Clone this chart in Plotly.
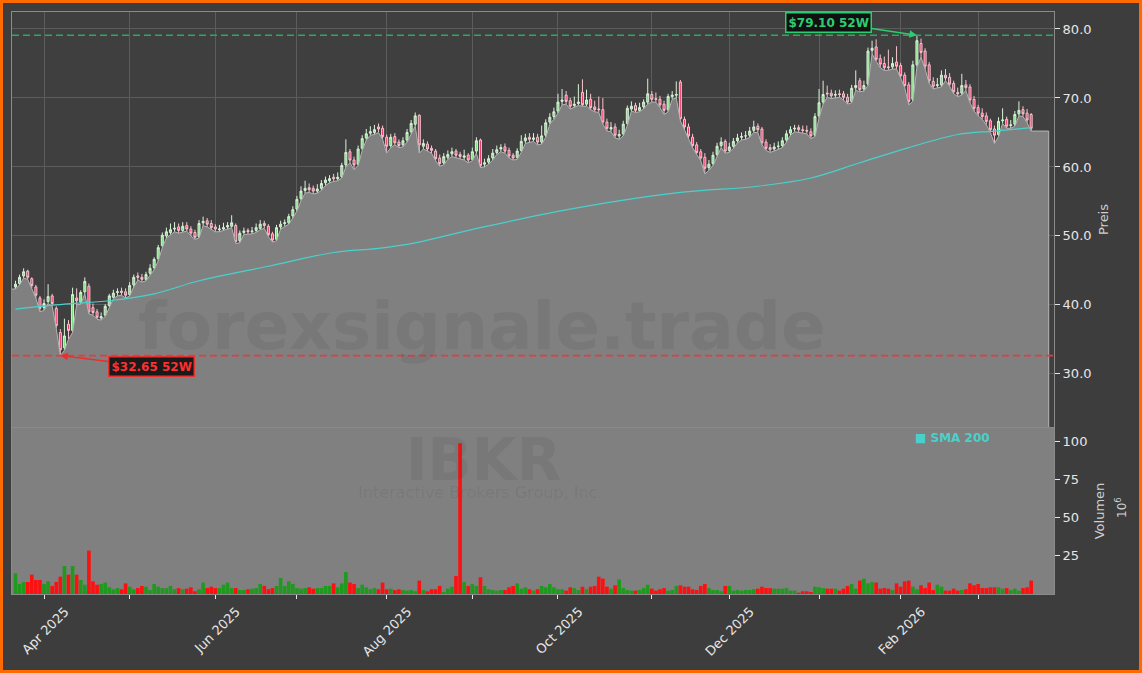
import pandas as pd
import plotly.graph_objects as go

# ---------------- data ----------------
holidays = ["2025-04-18", "2025-05-26", "2025-06-19", "2025-07-04", "2025-09-01",
            "2025-11-27", "2025-12-25", "2026-01-01", "2026-01-19", "2026-02-16"]
dates = pd.bdate_range("2025-03-21", periods=250, freq="C", holidays=holidays)

opens = [
    42.6, 43.1, 44.2, 44.9, 43.8, 42.6, 41.0, 39.6, 40.5, 41.3,
    39.5, 36.0, 33.8, 37.2, 36.3, 41.0, 40.4, 41.9, 42.7, 39.6,
    39.0, 38.1, 38.5, 39.9, 41.1, 41.8, 42.0, 41.9, 41.5, 42.9,
    44.2, 44.0, 43.7, 44.6, 45.4, 46.7, 48.6, 50.0, 50.5, 51.0,
    51.3, 50.8, 51.5, 51.0, 50.5, 49.9, 51.9, 52.2, 51.8, 51.3,
    50.9, 51.0, 51.3, 51.4, 51.5, 49.3, 50.5, 50.8, 50.6, 50.8,
    51.1, 51.8, 51.4, 50.3, 49.5, 51.3, 51.8, 51.9, 52.9, 53.9,
    55.4, 56.6, 57.0, 56.9, 56.5, 56.9, 57.7, 58.0, 58.5, 58.3,
    58.6, 60.3, 62.2, 61.0, 60.4, 62.7, 64.2, 64.9, 65.0, 65.8,
    65.6, 64.3, 63.1, 64.4, 63.6, 63.2, 63.9, 65.1, 66.2, 67.5,
    63.0, 63.3, 62.7, 62.3, 61.3, 60.6, 61.4, 61.9, 62.3, 61.8,
    61.4, 61.7, 61.1, 62.3, 63.9, 60.4, 60.7, 61.3, 62.1, 62.6,
    62.9, 62.4, 61.7, 61.4, 62.4, 63.8, 64.3, 64.0, 64.3, 63.6,
    64.6, 66.5, 67.3, 68.1, 69.5, 70.4, 69.6, 68.9, 69.2, 70.8,
    69.1, 69.8, 68.7, 68.4, 68.3, 66.5, 65.5, 65.8, 64.5, 64.8,
    66.3, 68.4, 68.9, 68.2, 68.7, 69.4, 70.5, 69.9, 69.8, 69.1,
    68.3, 70.2, 70.4, 72.3, 66.9, 65.8, 64.3, 63.2, 62.2, 61.4,
    59.9, 60.5, 61.8, 63.1, 63.7, 62.4, 63.0, 63.8, 64.3, 64.5,
    64.6, 65.3, 65.9, 65.5, 63.6, 62.8, 62.6, 63.0, 63.1, 63.9,
    64.9, 65.5, 65.7, 65.4, 65.3, 65.1, 64.6, 67.4, 69.4, 70.7,
    70.7, 70.4, 70.6, 70.6, 70.1, 69.5, 71.5, 72.5, 71.3, 72.0,
    76.9, 77.4, 75.7, 75.0, 74.5, 74.5, 75.2, 74.7, 73.3, 71.9,
    69.8, 74.8, 77.9, 76.8, 74.8, 72.4, 71.8, 71.9, 73.3, 73.0,
    72.1, 70.8, 70.7, 71.9, 71.6, 69.8, 68.6, 67.8, 67.4, 66.7,
    65.5, 64.7, 66.7, 66.9, 66.0, 66.2, 67.7, 68.3, 67.8, 67.6,
]
highs = [
    43.5, 44.4, 45.3, 45.1, 44.0, 42.9, 41.3, 40.8, 43.0, 41.6,
    39.8, 36.5, 38.0, 37.8, 42.5, 42.4, 42.1, 44.0, 43.1, 40.2,
    39.4, 38.9, 40.1, 41.6, 42.2, 42.4, 42.5, 42.4, 43.3, 44.4,
    44.7, 44.5, 44.8, 45.9, 46.9, 48.7, 50.5, 51.2, 51.8, 52.0,
    51.8, 52.0, 52.0, 51.4, 50.9, 52.3, 52.8, 52.6, 52.3, 51.7,
    51.6, 51.9, 52.0, 53.0, 51.8, 50.8, 51.2, 51.1, 51.3, 51.8,
    52.3, 52.2, 51.7, 50.6, 51.6, 52.2, 52.4, 53.2, 54.3, 55.8,
    57.2, 58.0, 57.6, 57.3, 57.5, 58.1, 58.6, 58.8, 59.0, 59.2,
    60.6, 64.0, 62.6, 61.5, 63.1, 64.6, 65.5, 65.9, 66.1, 66.3,
    66.0, 64.7, 64.8, 64.9, 64.0, 64.3, 65.5, 66.8, 67.9, 67.6,
    64.0, 63.7, 63.1, 62.6, 61.8, 62.0, 62.4, 62.8, 62.6, 62.2,
    62.5, 62.0, 62.8, 64.3, 64.1, 61.2, 61.7, 62.6, 63.1, 63.3,
    63.4, 62.8, 62.0, 62.7, 64.6, 64.8, 64.9, 64.9, 64.8, 66.0,
    66.9, 67.8, 68.6, 70.6, 71.3, 71.0, 70.0, 70.2, 72.0, 72.7,
    71.2, 70.6, 69.6, 70.2, 70.0, 67.0, 66.5, 66.3, 65.4, 66.7,
    68.9, 69.5, 69.3, 69.3, 69.8, 72.8, 71.0, 70.8, 70.3, 69.6,
    70.6, 71.0, 72.4, 72.6, 67.3, 66.3, 64.8, 63.6, 62.6, 62.0,
    61.0, 62.2, 63.5, 64.3, 64.0, 63.5, 64.2, 64.8, 65.0, 65.2,
    65.8, 66.7, 66.3, 65.8, 64.0, 63.3, 63.5, 63.7, 64.3, 65.3,
    65.9, 66.1, 66.1, 66.0, 66.0, 65.6, 67.8, 71.3, 72.5, 71.8,
    71.2, 71.1, 71.2, 71.0, 70.6, 71.9, 74.0, 72.9, 72.5, 77.3,
    78.3, 78.5, 76.3, 76.0, 77.0, 75.9, 77.5, 75.1, 73.7, 72.3,
    75.4, 79.1, 78.6, 77.2, 75.2, 73.0, 72.9, 74.0, 74.2, 73.6,
    72.5, 71.5, 73.5, 72.6, 72.0, 70.3, 69.0, 68.5, 67.9, 67.0,
    66.0, 67.2, 68.5, 67.3, 66.8, 68.1, 69.5, 68.8, 68.4, 67.8,
]
lows = [
    42.3, 42.9, 43.9, 43.7, 42.4, 41.0, 39.0, 39.2, 40.2, 39.8,
    36.6, 32.65, 33.4, 35.0, 36.0, 40.0, 40.1, 41.6, 38.7, 38.5,
    37.9, 37.8, 38.3, 39.7, 40.9, 41.3, 41.4, 41.0, 41.3, 42.6,
    43.6, 43.3, 43.5, 44.3, 45.1, 46.4, 48.3, 49.7, 50.2, 50.6,
    50.4, 50.5, 50.7, 50.0, 49.5, 49.7, 51.5, 51.3, 50.9, 50.6,
    50.6, 50.8, 51.0, 51.2, 48.9, 49.0, 50.2, 50.2, 50.3, 50.5,
    50.9, 51.1, 49.9, 49.1, 49.3, 51.0, 51.4, 51.7, 52.6, 53.6,
    55.1, 56.2, 56.3, 56.1, 56.2, 56.6, 57.3, 57.7, 57.9, 58.0,
    58.4, 60.0, 60.6, 59.6, 60.2, 62.4, 63.9, 64.6, 64.7, 65.0,
    64.0, 62.0, 62.8, 63.2, 62.8, 62.9, 63.6, 64.8, 65.9, 62.0,
    62.6, 62.3, 62.0, 60.9, 60.1, 60.3, 61.1, 61.5, 61.3, 61.1,
    61.0, 60.6, 60.9, 62.0, 59.9, 60.0, 60.4, 61.0, 61.8, 62.2,
    62.0, 61.3, 61.0, 61.1, 62.1, 63.4, 63.6, 63.7, 63.2, 63.3,
    64.3, 66.2, 66.9, 67.8, 69.0, 69.1, 68.4, 68.6, 68.9, 68.8,
    68.8, 68.3, 68.0, 67.9, 66.2, 65.2, 65.1, 64.2, 64.0, 64.5,
    66.0, 68.1, 67.9, 68.0, 68.4, 69.1, 69.4, 69.4, 68.6, 67.6,
    68.0, 69.8, 70.0, 66.7, 65.4, 64.1, 62.8, 61.8, 60.9, 59.0,
    59.5, 60.2, 61.5, 62.8, 62.0, 62.1, 62.7, 63.5, 63.9, 64.0,
    64.3, 65.0, 65.0, 63.2, 62.4, 62.1, 62.3, 62.6, 62.8, 63.6,
    64.6, 65.1, 65.0, 64.9, 64.8, 64.1, 64.4, 67.1, 69.1, 70.1,
    69.9, 70.0, 70.1, 69.7, 69.1, 69.3, 71.1, 70.9, 71.0, 71.8,
    76.4, 75.3, 74.4, 74.0, 74.0, 74.2, 74.2, 72.9, 71.5, 69.0,
    69.5, 74.5, 75.9, 74.2, 72.1, 71.3, 71.4, 71.6, 72.5, 71.7,
    70.6, 70.2, 70.4, 71.1, 69.3, 68.1, 67.4, 66.9, 66.1, 65.0,
    63.4, 64.4, 66.3, 65.6, 65.6, 65.9, 67.4, 67.3, 66.4, 65.2,
]
closes = [
    43.0, 44.0, 44.8, 44.0, 42.8, 41.4, 39.5, 40.2, 41.2, 40.2,
    37.0, 33.5, 35.5, 36.3, 41.5, 40.6, 41.8, 43.4, 39.0, 38.9,
    38.2, 38.3, 39.8, 41.3, 41.7, 41.9, 41.8, 41.4, 42.8, 44.0,
    44.0, 43.7, 44.4, 45.3, 46.6, 48.3, 50.1, 50.6, 50.9, 51.1,
    50.8, 51.4, 51.0, 50.4, 49.8, 51.8, 52.1, 51.7, 51.2, 51.0,
    51.0, 51.2, 51.5, 51.9, 49.2, 50.4, 50.7, 50.6, 50.7, 51.2,
    51.7, 51.5, 50.2, 49.4, 51.2, 51.7, 51.9, 52.8, 53.8, 55.3,
    56.5, 56.9, 56.7, 56.5, 56.8, 57.6, 58.1, 58.3, 58.3, 58.5,
    60.2, 62.1, 61.0, 60.3, 62.6, 64.1, 64.8, 65.1, 65.4, 65.5,
    64.4, 63.0, 64.3, 63.5, 63.1, 63.8, 65.0, 66.3, 67.4, 63.2,
    63.4, 62.6, 62.4, 61.2, 60.5, 61.5, 61.8, 62.2, 61.7, 61.5,
    61.6, 61.0, 62.2, 63.8, 60.2, 60.6, 61.2, 62.0, 62.5, 62.8,
    62.3, 61.6, 61.3, 62.3, 63.7, 64.2, 64.0, 64.2, 63.6, 64.5,
    66.4, 67.2, 68.0, 69.4, 69.7, 69.5, 68.8, 69.1, 69.4, 69.0,
    69.7, 68.6, 68.3, 68.3, 66.5, 65.6, 65.7, 64.6, 64.7, 66.2,
    68.5, 68.8, 68.2, 68.6, 69.4, 70.6, 69.8, 69.8, 69.0, 68.2,
    70.2, 70.4, 70.5, 67.0, 65.8, 64.5, 63.1, 62.1, 61.3, 59.8,
    60.4, 61.7, 63.0, 63.6, 62.3, 62.9, 63.7, 64.2, 64.4, 64.5,
    65.2, 65.8, 65.4, 63.5, 62.7, 62.5, 62.9, 63.0, 63.8, 64.8,
    65.4, 65.6, 65.4, 65.3, 65.2, 64.5, 67.3, 69.3, 70.5, 70.6,
    70.3, 70.5, 70.5, 70.1, 69.4, 71.4, 71.8, 71.2, 71.8, 76.8,
    77.2, 75.6, 74.9, 74.4, 74.4, 75.0, 74.6, 73.2, 71.8, 69.5,
    74.8, 78.3, 76.6, 74.6, 72.5, 71.7, 71.9, 73.3, 72.9, 72.0,
    70.9, 70.6, 71.8, 71.5, 69.7, 68.5, 67.8, 67.3, 66.6, 65.4,
    64.6, 66.6, 66.8, 65.9, 66.1, 67.6, 68.2, 67.7, 66.8, 65.6,
]
volume_m = [
    13.6, 6.6, 7.9, 7.9, 12.7, 9.2, 9.2, 6.6, 8.3, 5.3,
    7.9, 11.4, 18.4, 12.7, 18.4, 12.7, 9.2, 6.1, 28.5, 8.3,
    6.1, 6.6, 7.5, 4.4, 3.1, 3.9, 3.1, 7.0, 4.8, 3.1,
    3.9, 5.3, 4.8, 2.6, 6.6, 4.8, 3.9, 3.9, 5.3, 3.1,
    3.9, 3.1, 3.5, 4.4, 1.8, 3.1, 7.5, 3.9, 4.8, 3.9,
    3.9, 6.1, 7.5, 3.9, 3.9, 2.6, 2.6, 3.1, 3.5, 3.9,
    6.6, 5.3, 3.1, 3.9, 5.3, 10.5, 5.3, 8.3, 6.6, 3.9,
    3.5, 3.9, 4.4, 3.5, 3.9, 3.9, 5.3, 5.3, 7.0, 4.4,
    7.0, 14.5, 7.5, 6.6, 3.9, 6.1, 4.4, 3.1, 3.9, 3.1,
    7.5, 3.1, 3.5, 2.6, 3.1, 2.6, 2.2, 2.6, 1.8, 8.8,
    2.6, 1.8, 3.1, 3.1, 5.3, 1.3, 3.5, 4.8, 11.8, 99.0,
    7.9, 5.3, 6.6, 5.3, 11.0, 5.3, 3.1, 2.6, 2.2, 2.6,
    2.6, 4.4, 5.3, 7.0, 3.5, 4.4, 3.1, 2.2, 3.1, 5.3,
    4.4, 6.6, 4.4, 3.1, 3.1, 2.2, 4.4, 3.9, 2.6, 4.8,
    3.1, 4.8, 5.3, 11.4, 10.1, 4.8, 3.5, 5.7, 9.6, 3.9,
    2.6, 2.2, 2.2, 2.6, 3.9, 6.1, 3.5, 2.2, 3.1, 3.9,
    2.2, 2.6, 5.3, 5.7, 4.8, 4.8, 3.1, 2.6, 5.3, 6.6,
    3.9, 2.6, 2.6, 1.8, 5.3, 5.3, 2.2, 2.6, 2.2, 2.6,
    2.6, 3.1, 3.5, 4.8, 3.9, 3.9, 3.5, 3.5, 3.5, 3.9,
    2.2, 2.2, 0.9, 1.8, 1.8, 1.3, 4.8, 4.4, 3.9, 3.5,
    3.5, 3.5, 2.2, 3.5, 5.3, 6.6, 3.5, 8.8, 10.1, 7.0,
    7.9, 7.5, 3.5, 3.9, 3.5, 2.6, 7.0, 4.8, 8.3, 8.8,
    4.8, 3.1, 5.7, 3.9, 7.5, 2.6, 6.1, 4.8, 2.2, 2.2,
    3.5, 2.2, 2.6, 3.1, 7.0, 5.7, 6.6, 3.9, 3.9, 4.4,
    4.4, 4.4, 3.5, 3.9, 2.6, 3.5, 2.2, 3.9, 4.4, 8.8,
]
# SMA 200 read at selected bars
sma_bar = [0, 12, 23, 34, 45, 62, 78, 89, 98, 114, 138, 163, 182, 195, 207, 219, 231, 240, 249]
sma_val = [39.4, 40.1, 40.6, 41.6, 43.5, 45.6, 47.6, 48.2, 49.0, 51.2, 54.1, 56.3, 57.2, 58.4,
           60.6, 62.8, 64.7, 65.2, 65.7]
month_labels = ["Apr 2025", "Jun 2025", "Aug 2025", "Oct 2025", "Dec 2025", "Feb 2026"]
price_ticks = [30, 40, 50, 60, 70, 80]
volume_ticks = [25, 50, 75, 100]

# ---------------- derived ----------------
n = len(closes)
idx = list(range(n))
month_pos = [i for i in range(1, n) if dates[i].month != dates[i - 1].month]
major_pos = month_pos[0::2]
minor_pos = month_pos[1::2]
hi52 = max(highs)
lo52 = min(lows)
i_hi = highs.index(hi52)
i_lo = lows.index(lo52)
vol_colors = ["#1f9a1f" if c >= o else "#ff1010" for o, c in zip(opens, closes)]

# ---------------- layout geometry ----------------
W, H = 1142, 673
ML, MR, MT, MB = 12, 88, 12, 79
PW, PH = W - ML - MR, H - MT - MB
split_px = 428  # boundary between panels (figure px)
vol_dom = [0, (594 - split_px) / PH]
price_dom = [(594 - split_px + 1) / PH, 1]
x_range = [-0.85, 254.6]
pad_end = 4.3  # fill area extends a little beyond the last bar


def px_x(p):
    return (p - ML) / PW


def px_y(p):
    return (H - MB - p) / PH


font_main = "DejaVu Sans"
wm_color = "rgba(40,40,40,0.09)"
fig = go.Figure()

# filled area (lows), spanning the full panel width on the left
fill_x = [x_range[0]] + idx + [n - 1 + pad_end, n - 1 + pad_end]
fill_y = [lows[0]] + lows + [lows[-1], 0]
fig.add_trace(go.Scatter(
    x=fill_x, y=fill_y,
    mode="lines", fill="tozeroy", fillcolor="#808080",
    line=dict(color="#b4b4b4", width=1), hoverinfo="skip", showlegend=False,
    xaxis="x", yaxis="y"))

# SMA 200
fig.add_trace(go.Scatter(
    x=sma_bar, y=sma_val, mode="lines", line=dict(color="#48d1cc", width=1.2, shape="spline"),
    name="SMA 200", showlegend=False, hoverinfo="skip", xaxis="x", yaxis="y"))

# candles
fig.add_trace(go.Candlestick(
    x=idx, open=opens, high=highs, low=lows, close=closes,
    increasing=dict(line=dict(color="#d8f2d8", width=1), fillcolor="#7cdc7c"),
    decreasing=dict(line=dict(color="#f6c4cf", width=1), fillcolor="#f0386a"),
    whiskerwidth=0, showlegend=False, xaxis="x", yaxis="y"))

# volume
fig.add_trace(go.Bar(
    x=idx, y=volume_m, marker=dict(color=vol_colors, line=dict(width=0)),
    width=0.9, showlegend=False, xaxis="x2", yaxis="y2"))

shapes = [
    # volume panel background
    dict(type="rect", xref="paper", yref="paper", x0=0, x1=1, y0=vol_dom[0], y1=vol_dom[1],
         fillcolor="#808080", line=dict(width=0), layer="below"),
    # 52W lines
    dict(type="line", xref="paper", yref="y", x0=0, x1=1, y0=hi52, y1=hi52,
         line=dict(color="#2ea860", width=1.6, dash="7px,4px")),
    dict(type="line", xref="paper", yref="y", x0=0, x1=1, y0=lo52, y1=lo52,
         line=dict(color="#e23c3c", width=1.6, dash="7px,4px")),
    # orange frame
    dict(type="rect", xref="paper", yref="paper",
         x0=px_x(1.5), x1=px_x(W - 1.5), y0=px_y(H - 1.5), y1=px_y(1.5),
         line=dict(color="#ff6a00", width=3), fillcolor="rgba(0,0,0,0)", layer="above"),
]

annotations = [
    dict(text="<b>forexsignale.trade</b>", xref="paper", yref="paper", x=px_x(482), y=px_y(326),
         showarrow=False, font=dict(family=font_main, size=66, color=wm_color),
         xanchor="center", yanchor="middle"),
    dict(text="<b>IBKR</b>", xref="paper", yref="paper", x=px_x(483), y=px_y(460),
         showarrow=False, font=dict(family=font_main, size=58, color=wm_color),
         xanchor="center", yanchor="middle"),
    dict(text="Interactive Brokers Group, Inc.", xref="paper", yref="paper", x=px_x(480),
         y=px_y(492), showarrow=False,
         font=dict(family=font_main, size=16, color=wm_color),
         xanchor="center", yanchor="middle"),
    dict(text="<b>$%.2f 52W</b>" % hi52, x=i_hi, y=hi52, xref="x", yref="y",
         ax=-88, ay=-13, showarrow=True, arrowhead=2, arrowsize=1, arrowwidth=1.5,
         arrowcolor="#2ecc71", font=dict(family=font_main, size=12, color="#2ecc71"),
         bgcolor="#111111", bordercolor="#2ecc71", borderwidth=1.5, borderpad=2),
    dict(text="<b>$%.2f 52W</b>" % lo52, x=i_lo, y=lo52, xref="x", yref="y",
         ax=91, ay=11, showarrow=True, arrowhead=2, arrowsize=1, arrowwidth=1.5,
         arrowcolor="#e8302f", font=dict(family=font_main, size=12, color="#ff3030"),
         bgcolor="#1a1a1a", bordercolor="#e8302f", borderwidth=1.5, borderpad=2),
    dict(text="<b>■ SMA 200</b>", xref="paper", yref="paper", x=px_x(913), y=px_y(438),
         showarrow=False, xanchor="left", yanchor="middle",
         font=dict(family=font_main, size=12, color="#48d1cc")),
    dict(text="10<sup>6</sup>", xref="paper", yref="paper", x=px_x(1121), y=px_y(508),
         showarrow=False, textangle=-90, xanchor="center", yanchor="middle",
         font=dict(family=font_main, size=12, color="#d0d0d0")),
]

axis_common = dict(showline=True, linecolor="#8a8a8a", linewidth=1, mirror=True,
                   zeroline=False, automargin=False)

fig.update_layout(
    width=W, height=H,
    margin=dict(l=ML, r=MR, t=MT, b=MB),
    paper_bgcolor="#3d3d3d", plot_bgcolor="#3f3f3f",
    font=dict(family=font_main, color="#e6e6e6", size=13),
    showlegend=False, hovermode=False,
    shapes=shapes, annotations=annotations,
    xaxis=dict(domain=[0, 1], anchor="y", range=x_range, tickvals=month_pos,
               showticklabels=False, showgrid=True, gridcolor="#5c5c5c",
               gridwidth=1, ticks="", rangeslider=dict(visible=False), **axis_common),
    xaxis2=dict(domain=[0, 1], anchor="y2", matches="x", range=x_range, tickvals=major_pos,
                ticktext=month_labels[:len(major_pos)], tickangle=-45, ticks="outside",
                ticklen=4, tickcolor="#e6e6e6", showgrid=False, ticklabelshift=21,
                tickfont=dict(size=13, color="#e6e6e6"),
                minor=dict(tickvals=minor_pos, ticks="outside", ticklen=4,
                           tickcolor="#e6e6e6", showgrid=False),
                rangeslider=dict(visible=False), **axis_common),
    yaxis=dict(domain=price_dom, anchor="x", side="right", range=[22.3, 82.46],
               tickvals=price_ticks, tickformat=".1f", ticks="outside", ticklen=5,
               tickcolor="#e6e6e6", showgrid=True, gridcolor="#5c5c5c",
               title=dict(text="Preis", font=dict(size=13, color="#cfcfcf"), standoff=8),
               tickfont=dict(size=13, color="#e6e6e6"), **axis_common),
    yaxis2=dict(domain=vol_dom, anchor="x2", side="right", range=[0, 109],
                tickvals=volume_ticks, ticks="outside", ticklen=5, tickcolor="#e6e6e6",
                showgrid=False,
                title=dict(text="Volumen", font=dict(size=13, color="#cfcfcf"), standoff=8),
                tickfont=dict(size=13, color="#e6e6e6"), **axis_common),
)

fig.write_html("out.html", config={"displayModeBar": False, "staticPlot": True},
               post_script="document.body.style.margin='0';document.body.style.padding='0';")
